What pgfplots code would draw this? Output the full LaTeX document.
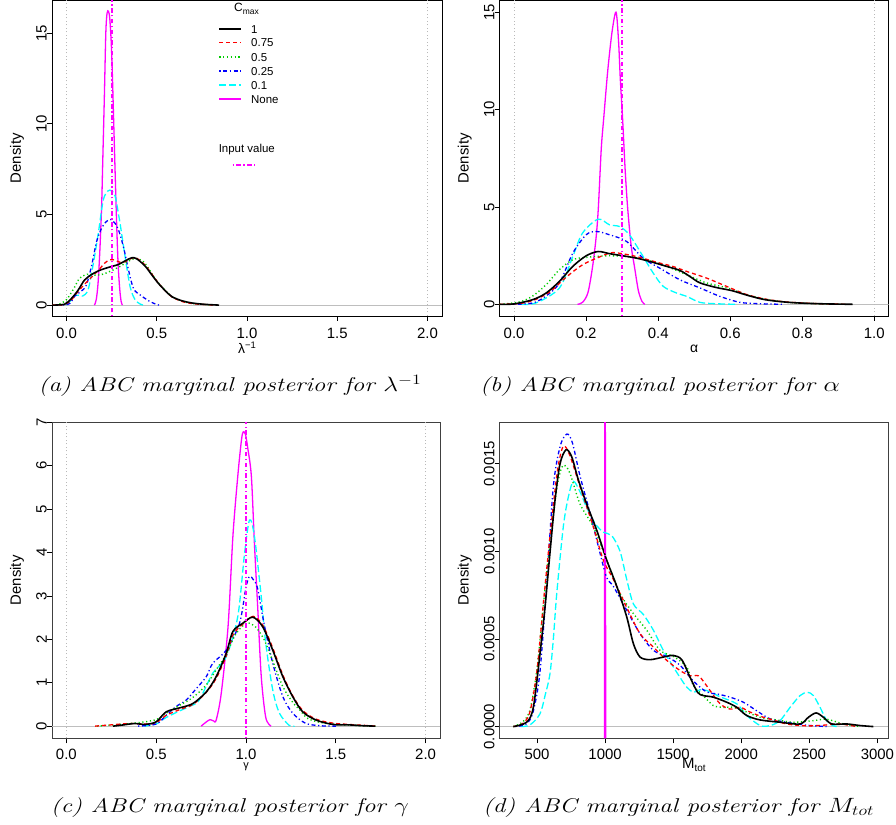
\documentclass[border=0pt]{standalone}
\usepackage{fontspec}
\usepackage{graphicx}
\usepackage{pgfplots}
\pgfplotsset{compat=1.18}
\newfontfamily\rsans{Liberation Sans}
\definecolor{rgreen}{RGB}{0,205,0}
\definecolor{rcyan}{RGB}{0,255,255}
\definecolor{rmag}{RGB}{255,0,255}
\definecolor{rblue}{RGB}{0,0,255}
\definecolor{rred}{RGB}{255,0,0}
\definecolor{zgray}{RGB}{190,190,190}
\newcommand\strA{\rule{0pt}{17.5bp}}
\newcommand\strC{\rule{0pt}{16bp}}
\tikzset{
 c1/.style={color=black, draw=black, line width=1.6bp},
 c075/.style={color=rred, draw=rred, line width=1.3bp, dash pattern=on 4bp off 3bp},
 c05/.style={color=rgreen, draw=rgreen, line width=1.4bp, dash pattern=on 1.2bp off 2.6bp},
 c025/.style={color=rblue, draw=rblue, line width=1.3bp, dash pattern=on 1.2bp off 2.6bp on 4bp off 2.6bp},
 c01/.style={color=rcyan, draw=rcyan, line width=1.3bp, dash pattern=on 7bp off 3bp},
 cnone/.style={color=rmag, draw=rmag, line width=1.3bp},
 inp/.style={color=rmag, draw=rmag, line width=1.6bp, dash pattern=on 1.2bp off 2.5bp on 4.5bp off 2.5bp},
 zline/.style={color=zgray, draw=zgray, line width=1.2bp},
 pline/.style={color=gray!55, draw=gray!55, line width=0.7bp, dash pattern=on 1bp off 2.5bp},
}
\pgfplotsset{
 rbase/.style={
  scale only axis, axis line style={line width=0.8bp},
  tick align=outside, xtick pos=bottom, ytick pos=left, major tick length=5bp,
  every tick/.style={black, line width=0.8bp},
  ticklabel style={font=\rsans\fontsize{15}{18}\selectfont, inner sep=0pt},
  /pgf/number format/assume math mode=true,
  yticklabel style={rotate=90, anchor=south},
  xticklabel style={anchor=north},
  ylabel={Density},
  ylabel style={font=\rsans\fontsize{15}{18}\selectfont, at={(axis description cs:-0.09,0.5)}, anchor=center},
  xlabel style={font=\rsans\fontsize{14}{16}\selectfont, anchor=center},
 },
}
\begin{document}
\begin{tikzpicture}
\path[use as bounding box] (0,0) rectangle (896bp,825bp);
% ---------------- (b) ----------------
\begin{axis}[rbase, at={(499.7bp,509bp)}, anchor=south west, width=389bp, height=315.5bp,
  xmin=-0.04, xmax=1.04, ymin=-0.6, ymax=15.6,
  xtick={0,0.2,0.4,0.6,0.8,1}, xticklabels={\strA0.0,\strA0.2,\strA0.4,\strA0.6,\strA0.8,\strA1.0}, ytick={0,5,10,15}, yticklabels={0,5,10,15},
  xlabel={α}, xlabel style={at={(axis description cs:0.5,-0.105)}}]
\addplot[zline] coordinates {(-0.04,0) (1.04,0)};
\addplot[pline] coordinates {(0,-0.6) (0,15.6)};
\addplot[pline] coordinates {(1,-0.6) (1,15.6)};
\addplot[cnone, smooth] coordinates {(0.176,0) (0.19,0.1) (0.205,0.6) (0.218,1.95) (0.228,3.5) (0.234,5) (0.242,8) (0.249,9.6) (0.26,12) (0.272,14) (0.283,15) (0.29,13.5) (0.295,11.5) (0.301,9.6) (0.308,7) (0.315,5) (0.325,3) (0.334,1.95) (0.345,0.7) (0.355,0.15) (0.363,0)};
\addplot[c01, smooth] coordinates {(0.02,0) (0.061,0.07) (0.126,0.84) (0.163,2.46) (0.19,3.66) (0.233,4.37) (0.265,4.08) (0.293,3.99) (0.32,3.57) (0.358,2.46) (0.386,1.61) (0.414,0.92) (0.451,0.58) (0.479,0.41) (0.516,0.1) (0.56,0.03) (0.62,0)};
\addplot[c025, smooth] coordinates {(0,0) (0.052,0.07) (0.089,0.43) (0.126,1.1) (0.163,2.63) (0.2,3.57) (0.228,3.74) (0.265,3.57) (0.312,3.23) (0.358,2.37) (0.404,1.86) (0.46,1.26) (0.516,0.84) (0.571,0.41) (0.627,0.1) (0.68,0.03) (0.75,0)};
\addplot[c05, smooth] coordinates {(-0.04,0) (0.015,0.12) (0.052,0.43) (0.089,1.01) (0.126,1.78) (0.163,2.29) (0.2,2.41) (0.256,2.49) (0.312,2.46) (0.367,2.29) (0.423,1.95) (0.479,1.52) (0.534,1.1) (0.59,0.85) (0.646,0.5) (0.7,0.25) (0.75,0.12) (0.8,0.06) (0.86,0.02) (0.92,0)};
\addplot[c075, smooth] coordinates {(-0.04,0) (0.02,0.05) (0.06,0.25) (0.1,0.65) (0.145,1.4) (0.19,2.03) (0.237,2.43) (0.27,2.65) (0.3,2.6) (0.34,2.45) (0.404,2.12) (0.44,1.95) (0.479,1.69) (0.534,1.35) (0.59,0.92) (0.646,0.5) (0.7,0.26) (0.75,0.13) (0.8,0.07) (0.85,0.03) (0.92,0)};
\addplot[c1, smooth] coordinates {(-0.04,0) (0,0.02) (0.052,0.24) (0.089,0.58) (0.126,1.18) (0.163,1.95) (0.2,2.49) (0.233,2.71) (0.265,2.6) (0.302,2.49) (0.34,2.37) (0.377,2.2) (0.423,1.95) (0.46,1.74) (0.488,1.43) (0.516,1.1) (0.562,0.86) (0.605,0.7) (0.65,0.45) (0.696,0.24) (0.75,0.12) (0.8,0.06) (0.87,0.02) (0.94,0)};
\addplot[inp] coordinates {(0.3,-0.6) (0.3,15.6)};
\end{axis}
% ---------------- (a) ----------------
\begin{axis}[rbase, at={(52bp,509bp)}, anchor=south west, width=390bp, height=315.5bp,
  xmin=-0.08, xmax=2.08, ymin=-0.6, ymax=16.8,
  xtick={0,0.5,1,1.5,2}, xticklabels={\strA0.0,\strA0.5,\strA1.0,\strA1.5,\strA2.0}, ytick={0,5,10,15}, yticklabels={0,5,10,15},
  xlabel={λ\raisebox{0.6ex}{\fontsize{9.5}{10}\selectfont −1}},
  xlabel style={at={(axis description cs:0.5,-0.1)}}]
\addplot[zline] coordinates {(-0.08,0) (2.08,0)};
\addplot[pline] coordinates {(0,-0.6) (0,16.8)};
\addplot[pline] coordinates {(2,-0.6) (2,16.8)};
\addplot[cnone, smooth] coordinates {(0.155,0) (0.165,0.3) (0.175,1.2) (0.185,3) (0.195,5.5) (0.2,7.5) (0.21,11.5) (0.218,15) (0.225,16.1) (0.233,16.2) (0.24,15.8) (0.248,14.5) (0.255,12.5) (0.262,10) (0.27,7.2) (0.278,4.5) (0.286,2.3) (0.295,0.9) (0.303,0.2) (0.31,0)};
\addplot[c01, smooth] coordinates {(0,0) (0.02,0.2) (0.04,0.5) (0.07,0.55) (0.09,0.5) (0.12,0.85) (0.149,2.3) (0.177,4.0) (0.204,5.8) (0.23,6.3) (0.25,6.3) (0.27,6.0) (0.297,4.5) (0.325,2.66) (0.353,1.0) (0.38,0.3) (0.41,0.05) (0.43,0)};
\addplot[c025, smooth] coordinates {(-0.02,0) (0.02,0.1) (0.046,0.5) (0.08,0.75) (0.11,1.1) (0.14,2.2) (0.167,3.5) (0.195,4.25) (0.22,4.6) (0.245,4.72) (0.27,4.5) (0.29,4.1) (0.316,3.2) (0.344,1.93) (0.372,0.9) (0.41,0.55) (0.455,0.24) (0.5,0.03) (0.52,0)};
\addplot[c05, smooth] coordinates {(-0.08,0) (-0.04,0.05) (0,0.3) (0.04,0.9) (0.07,1.45) (0.1,1.65) (0.13,1.72) (0.16,1.65) (0.2,1.7) (0.25,1.9) (0.3,2.15) (0.34,2.4) (0.38,2.58) (0.42,2.45) (0.45,2.1) (0.474,1.72) (0.51,1.22) (0.548,0.8) (0.585,0.47) (0.64,0.22) (0.7,0.09) (0.77,0.03) (0.8,0)};
\addplot[c075, smooth] coordinates {(-0.08,0) (-0.02,0.02) (0.02,0.2) (0.06,0.7) (0.1,1.15) (0.14,1.55) (0.18,1.95) (0.21,2.3) (0.24,2.5) (0.27,2.48) (0.3,2.35) (0.33,2.42) (0.36,2.58) (0.39,2.58) (0.436,2.2) (0.474,1.7) (0.51,1.2) (0.548,0.78) (0.585,0.45) (0.64,0.2) (0.7,0.08) (0.77,0.03) (0.82,0)};
\addplot[c1, smooth] coordinates {(-0.08,0) (-0.01,0.05) (0.028,0.37) (0.065,0.83) (0.10,1.38) (0.14,1.69) (0.177,1.89) (0.213,2.02) (0.25,2.13) (0.288,2.24) (0.325,2.44) (0.362,2.61) (0.39,2.55) (0.436,2.15) (0.474,1.65) (0.51,1.19) (0.548,0.79) (0.585,0.46) (0.64,0.24) (0.70,0.11) (0.77,0.04) (0.845,0)};
\addplot[inp] coordinates {(0.25,-0.6) (0.25,16.8)};
\end{axis}
% ---------------- (c) ----------------
\begin{axis}[rbase, at={(52bp,86.7bp)}, anchor=south west, width=388bp, height=316bp,
  xmin=-0.08, xmax=2.08, ymin=-0.28, ymax=7.0, axis line style={black!75},
  xtick={0,0.5,1,1.5,2}, xticklabels={\strC0.0,\strC0.5,\strC1.0,\strC1.5,\strC2.0}, ytick={0,1,2,3,4,5,6,7}, yticklabels={0,1,2,3,4,5,6,7},
  xlabel={γ}, xlabel style={at={(axis description cs:0.5,-0.09)}, font=\rsans\fontsize{11}{12}\selectfont}]
\addplot[zline] coordinates {(-0.08,0) (2.08,0)};
\addplot[pline] coordinates {(0,-0.28) (0,7)};
\addplot[pline] coordinates {(2,-0.28) (2,7)};
\addplot[cnone, smooth] coordinates {(0.75,0) (0.78,0.1) (0.8,0.15) (0.82,0.12) (0.834,0.14) (0.862,0.75) (0.9,2.29) (0.927,4.37) (0.954,5.75) (0.975,6.6) (0.985,6.78) (0.997,6.72) (1.01,6.4) (1.03,5.75) (1.047,4.2) (1.066,2.67) (1.085,1.14) (1.11,0.2) (1.14,0)};
\addplot[c01, smooth] coordinates {(0.43,0) (0.5,0.05) (0.556,0.2) (0.63,0.35) (0.7,0.48) (0.74,0.6) (0.815,1.22) (0.89,1.6) (0.954,2.52) (0.992,3.98) (1.02,4.75) (1.047,4.37) (1.085,2.98) (1.11,1.91) (1.149,0.83) (1.186,0.3) (1.24,0.02) (1.27,0)};
\addplot[c025, smooth] coordinates {(0.4,0) (0.5,0.05) (0.556,0.25) (0.61,0.45) (0.667,0.6) (0.72,0.85) (0.779,1.14) (0.815,1.45) (0.89,1.75) (0.964,2.37) (1.0,3.2) (1.02,3.45) (1.045,3.35) (1.066,3.15) (1.1,2.37) (1.149,1.45) (1.205,0.68) (1.26,0.3) (1.33,0.07) (1.41,0.01) (1.5,0)};
\addplot[c05, smooth] coordinates {(0.17,0) (0.3,0.04) (0.4,0.08) (0.5,0.15) (0.556,0.3) (0.63,0.48) (0.704,0.66) (0.779,0.95) (0.834,1.3) (0.89,1.65) (0.94,2.1) (1.0,2.37) (1.05,2.3) (1.1,2.0) (1.149,1.5) (1.205,0.91) (1.26,0.55) (1.3,0.37) (1.35,0.16) (1.45,0.06) (1.55,0.03) (1.65,0.01) (1.72,0)};
\addplot[c075, smooth] coordinates {(0.16,0) (0.25,0.03) (0.35,0.06) (0.45,0.05) (0.5,0.08) (0.556,0.25) (0.63,0.38) (0.704,0.5) (0.779,0.78) (0.834,1.1) (0.89,1.62) (0.927,2.1) (0.982,2.35) (1.04,2.53) (1.093,2.33) (1.149,1.8) (1.205,1.18) (1.26,0.7) (1.316,0.36) (1.39,0.16) (1.483,0.07) (1.57,0.04) (1.65,0.02) (1.73,0)};
\addplot[c1, smooth] coordinates {(0.26,0) (0.32,0.03) (0.38,0.06) (0.44,0.04) (0.5,0.1) (0.556,0.33) (0.63,0.42) (0.704,0.52) (0.779,0.79) (0.834,1.14) (0.89,1.68) (0.927,2.18) (0.982,2.37) (1.038,2.51) (1.093,2.29) (1.149,1.75) (1.205,1.14) (1.26,0.68) (1.316,0.33) (1.39,0.14) (1.483,0.04) (1.57,0.03) (1.65,0.01) (1.72,0)};
\addplot[inp] coordinates {(1,-0.28) (1,7)};
\end{axis}
% ---------------- (d) ----------------
\begin{axis}[rbase, at={(499.7bp,86.7bp)}, anchor=south west, width=388.3bp, height=316bp,
  xmin=226, xmax=3078, ymin=-0.668, ymax=17.37, axis line style={black!75},
  xtick={500,1000,1500,2000,2500,3000}, xticklabels={\strC500,\strC1000,\strC1500,\strC2000,\strC2500,\strC3000},
  ytick={0,5,10,15}, yticklabels={0.0000,0.0005,0.0010,0.0015},
  xlabel={M\raisebox{-0.45ex}{\fontsize{10}{12}\selectfont tot}}, xlabel style={at={(axis description cs:0.5,-0.062)}, anchor=north, inner sep=0pt, font=\rsans\fontsize{15}{18}\selectfont}]
\addplot[zline] coordinates {(226,0) (3078,0)};
\addplot[cnone, line width=1.8bp] coordinates {(997,-0.668) (1000,17.37) (1003,-0.668)};
\addplot[c01, smooth] coordinates {(380,0) (449,0.1) (522,0.73) (560,1.8) (595,3.0) (620,5.0) (645,7.6) (693,11.4) (730,13.1) (767,14.0) (816,13.4) (865,12.5) (926,11.6) (987,11.1) (1049,10.9) (1110,10.0) (1159,8.4) (1208,7.0) (1281,6.4) (1355,5.5) (1428,4.35) (1502,3.4) (1551,2.8) (1600,2.25) (1650,1.96) (1697,2.1) (1747,2.06) (1845,1.7) (1967,1.3) (2041,0.63) (2139,0.06) (2212,0.06) (2285,0.34) (2359,1.1) (2432,1.77) (2486,1.96) (2530,1.77) (2579,1.1) (2628,0.34) (2677,0.04) (2710,0)};
\addplot[c025, smooth] coordinates {(340,0) (420,0.15) (470,0.8) (520,3.0) (570,8.0) (620,13.7) (670,16.0) (720,16.7) (760,16.2) (816,14.3) (889,12.2) (963,9.9) (1012,8.5) (1061,8.0) (1159,6.64) (1257,5.3) (1355,4.35) (1453,4.0) (1551,3.5) (1648,2.6) (1747,1.97) (1820,1.87) (1918,1.68) (2016,1.39) (2114,0.9) (2212,0.44) (2334,0.25) (2480,0.08) (2628,0)};
\addplot[c05, smooth] coordinates {(326,0) (400,0.3) (450,1.0) (500,3.3) (550,7.2) (600,10.8) (650,13.8) (690,14.9) (740,14.5) (816,12.7) (914,11.4) (1012,9.5) (1110,7.6) (1208,6.45) (1306,5.5) (1404,4.35) (1502,4.0) (1600,3.4) (1648,2.35) (1722,1.77) (1795,1.2) (1869,1.1) (1943,1.1) (2041,0.83) (2139,0.53) (2261,0.38) (2383,0.25) (2530,0.34) (2628,0.42) (2750,0.15) (2873,0)};
\addplot[c075, smooth] coordinates {(326,0) (400,0.2) (450,0.9) (500,3.2) (550,7.3) (600,11.2) (650,14.6) (693,16.0) (740,15.5) (816,13.7) (914,11.4) (987,9.5) (1061,8.4) (1159,6.8) (1257,5.3) (1355,4.54) (1453,3.78) (1551,3.2) (1624,2.9) (1685,2.9) (1730,2.5) (1771,2.06) (1845,1.3) (1918,1.0) (1992,1.1) (2065,0.83) (2163,0.53) (2236,0.38) (2334,0.15) (2480,0.04) (2604,0.08) (2726,0.15) (2848,0)};
\addplot[c1, smooth] coordinates {(326,0) (424,0.25) (473,1.1) (522,4.16) (559,6.83) (595,9.9) (632,12.9) (669,15.0) (713,15.8) (755,15.4) (803,14.1) (865,12.7) (939,11.2) (1012,9.5) (1086,8.0) (1159,6.26) (1208,4.73) (1257,3.97) (1330,3.82) (1428,3.97) (1502,4.06) (1563,3.82) (1624,2.82) (1680,1.95) (1722,1.77) (1795,1.68) (1894,1.39) (1967,1.1) (2041,0.63) (2139,0.38) (2285,0.25) (2432,0.15) (2493,0.53) (2550,0.78) (2604,0.53) (2665,0.15) (2776,0.15) (2873,0.06) (2971,0)};
\addplot[inp] coordinates {(1000,-0.668) (1000,17.37)};
\end{axis}
% legend of (a)
\begin{scope}[every node/.style={font=\rsans\fontsize{11.5}{13}\selectfont, inner sep=0pt}]
\node[anchor=base, font=\rsans\fontsize{12}{14}\selectfont] at (246.5bp,813bp) {C\raisebox{-0.4ex}{\fontsize{8.5}{9}\selectfont max}};
\draw[c1]   (219.3bp,796bp) -- (240.7bp,796bp);   \node[anchor=base west] at (251bp,791.9bp) {1};
\draw[c075] (219.3bp,782.3bp) -- (240.7bp,782.3bp); \node[anchor=base west] at (251bp,778.2bp) {0.75};
\draw[c05]  (219.3bp,768bp) -- (240.7bp,768bp);   \node[anchor=base west] at (251bp,763.9bp) {0.5};
\draw[c025] (219.3bp,754bp) -- (240.7bp,754bp);   \node[anchor=base west] at (251bp,749.9bp) {0.25};
\draw[c01]  (219.3bp,740bp) -- (240.7bp,740bp);   \node[anchor=base west] at (251bp,735.9bp) {0.1};
\draw[cnone] (219.3bp,726bp) -- (240.7bp,726bp);  \node[anchor=base west] at (251bp,721.9bp) {None};
\node[anchor=base] at (246.8bp,672.5bp) {Input value};
\draw[inp, line width=1.2bp] (232.7bp,660bp) -- (255bp,660bp);
\end{scope}
% input-value marker line of (a), redrawn on top (x = 0.25 in axis (a))
\draw[inp, line width=1.8bp] (111.6bp,509bp) -- (111.6bp,824.5bp);
% ---------------- captions ----------------
\begin{scope}[every node/.style={anchor=base, font=\fontsize{20}{24}\selectfont\itshape}]
\node at (230bp,433bp) {\scalebox{1.25}[1]{(a) ABC marginal posterior for $\lambda^{-1}$}};
\node at (660bp,433bp) {\scalebox{1.25}[1]{(b) ABC marginal posterior for $\alpha$}};
\node at (230bp,13bp) {\scalebox{1.25}[1]{(c) ABC marginal posterior for $\gamma$}};
\node at (678.5bp,13bp) {\scalebox{1.25}[1]{(d) ABC marginal posterior for $M_{tot}$}};
\end{scope}
\end{tikzpicture}
\end{document}
